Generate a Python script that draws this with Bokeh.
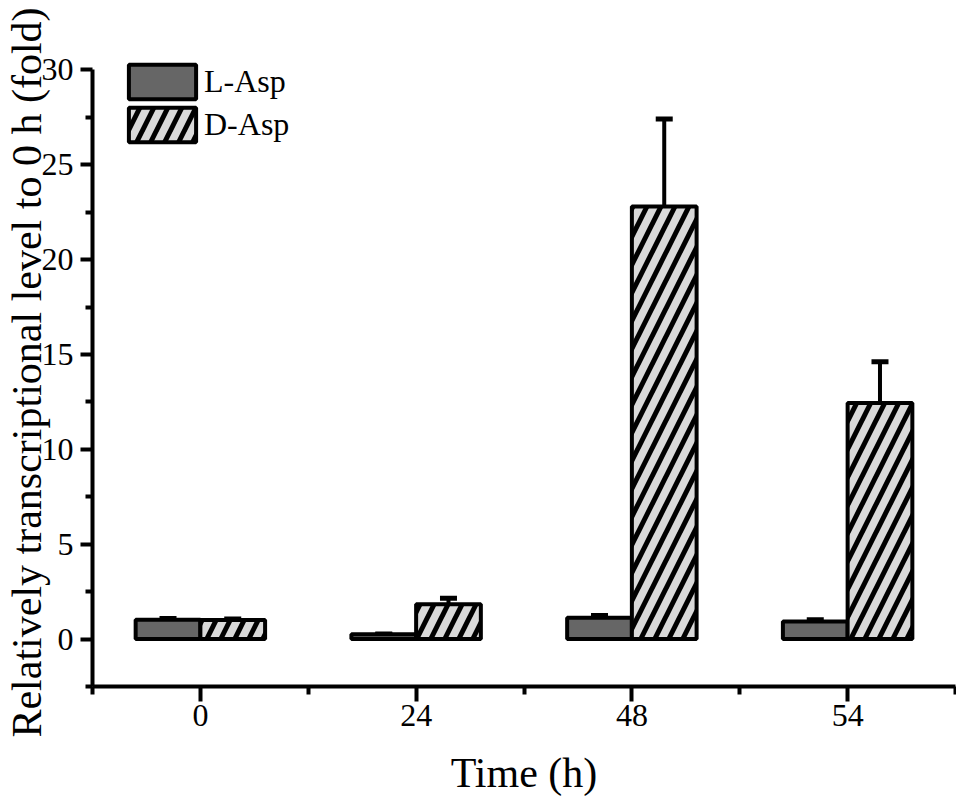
from bokeh.plotting import figure
from bokeh.models import (ColumnDataSource, FixedTicker, Range1d, Whisker, TeeHead,
                          Legend, LegendItem)
from bokeh.embed import file_html
from bokeh.resources import INLINE

times = ["0", "24", "48", "54"]
l_asp = [1.02, 0.25, 1.12, 0.92]
l_err = [0.07, 0.02, 0.12, 0.10]
d_asp = [1.00, 1.83, 22.8, 12.44]
d_err = [0.06, 0.32, 4.61, 2.18]
y_title = "Relatively transcriptional level to 0 h (fold)"
x_title = "Time (h)"

FONT = "Liberation Serif"
LW = 4
idx = list(range(len(times)))
lx = [i - 0.15 for i in idx]
dx = [i + 0.15 for i in idx]

src_l = ColumnDataSource(dict(x=lx, top=l_asp,
                              upper=[v + e for v, e in zip(l_asp, l_err)],
                              lower=[v - e for v, e in zip(l_asp, l_err)]))
src_d = ColumnDataSource(dict(x=dx, top=d_asp,
                              upper=[v + e for v, e in zip(d_asp, d_err)],
                              lower=[v - e for v, e in zip(d_asp, d_err)]))

p = figure(width=956, height=800, output_backend="svg", toolbar_location=None,
           x_range=Range1d(-0.5, 3.5), y_range=Range1d(-2.5, 30.6),
           min_border_left=92, min_border_top=58, min_border_bottom=114,
           min_border_right=1)
p.outline_line_color = None
p.xgrid.visible = False
p.ygrid.visible = False
p.background_fill_color = "white"

rl = p.vbar(x="x", top="top", bottom=0, width=0.3, source=src_l,
            fill_color="#666666", line_color="black", line_width=LW)
rd = p.vbar(x="x", top="top", bottom=0, width=0.3, source=src_d,
            fill_color="#d9d9d9", line_color="black", line_width=LW,
            hatch_pattern="/", hatch_color="black", hatch_scale=28, hatch_weight=5)

for s in (src_l, src_d):
    w = Whisker(source=s, base="x", upper="upper", lower="lower",
                line_color="black", line_width=LW,
                upper_head=TeeHead(size=17, line_width=5, line_color="black"),
                lower_head=TeeHead(size=17, line_width=5, line_color="black"))
    p.add_layout(w)

# y axis
yax = p.yaxis[0]
yax.bounds = (-2.5, 30)
yax.ticker = FixedTicker(ticks=[0, 5, 10, 15, 20, 25, 30],
                         minor_ticks=[-2.5, 2.5, 7.5, 12.5, 17.5, 22.5, 27.5])
yax.axis_label = y_title
# x axis
xax = p.xaxis[0]
xax.ticker = FixedTicker(ticks=idx, minor_ticks=[-0.5, 0.5, 1.5, 2.5, 3.5])
xax.major_label_overrides = {i: t for i, t in zip(idx, times)}
xax.axis_label = x_title

for ax in (xax, yax):
    ax.axis_line_width = LW
    ax.axis_line_color = "black"
    ax.major_tick_line_width = LW
    ax.minor_tick_line_width = LW
    ax.major_tick_line_color = "black"
    ax.minor_tick_line_color = "black"
    ax.major_tick_in = 0
    ax.minor_tick_in = 0
    ax.major_label_text_font = FONT
    ax.major_label_text_font_size = "32px"
    ax.major_label_text_color = "black"
    ax.axis_label_text_font = FONT
    ax.axis_label_text_font_style = "normal"
    ax.axis_label_text_color = "black"

yax.major_tick_out = 12
yax.minor_tick_out = 7
yax.major_label_standoff = 7
yax.axis_label_text_font_size = "42px"
yax.axis_label_standoff = -11

xax.major_tick_out = 15
xax.minor_tick_out = 8
xax.major_label_standoff = 3
xax.axis_label_text_font_size = "42px"
xax.axis_label_standoff = 21

legend = Legend(items=[LegendItem(label="L-Asp", renderers=[rl]),
                       LegendItem(label="D-Asp", renderers=[rd])],
                location=(28, 540), padding=0, margin=0, spacing=-6,
                glyph_width=84, glyph_height=43, label_standoff=0,
                label_text_font=FONT, label_text_font_size="32px",
                label_text_color="black", label_height=43,
                border_line_color=None, background_fill_alpha=0)
p.add_layout(legend)

open("out.html", "w").write(file_html(p, INLINE))
